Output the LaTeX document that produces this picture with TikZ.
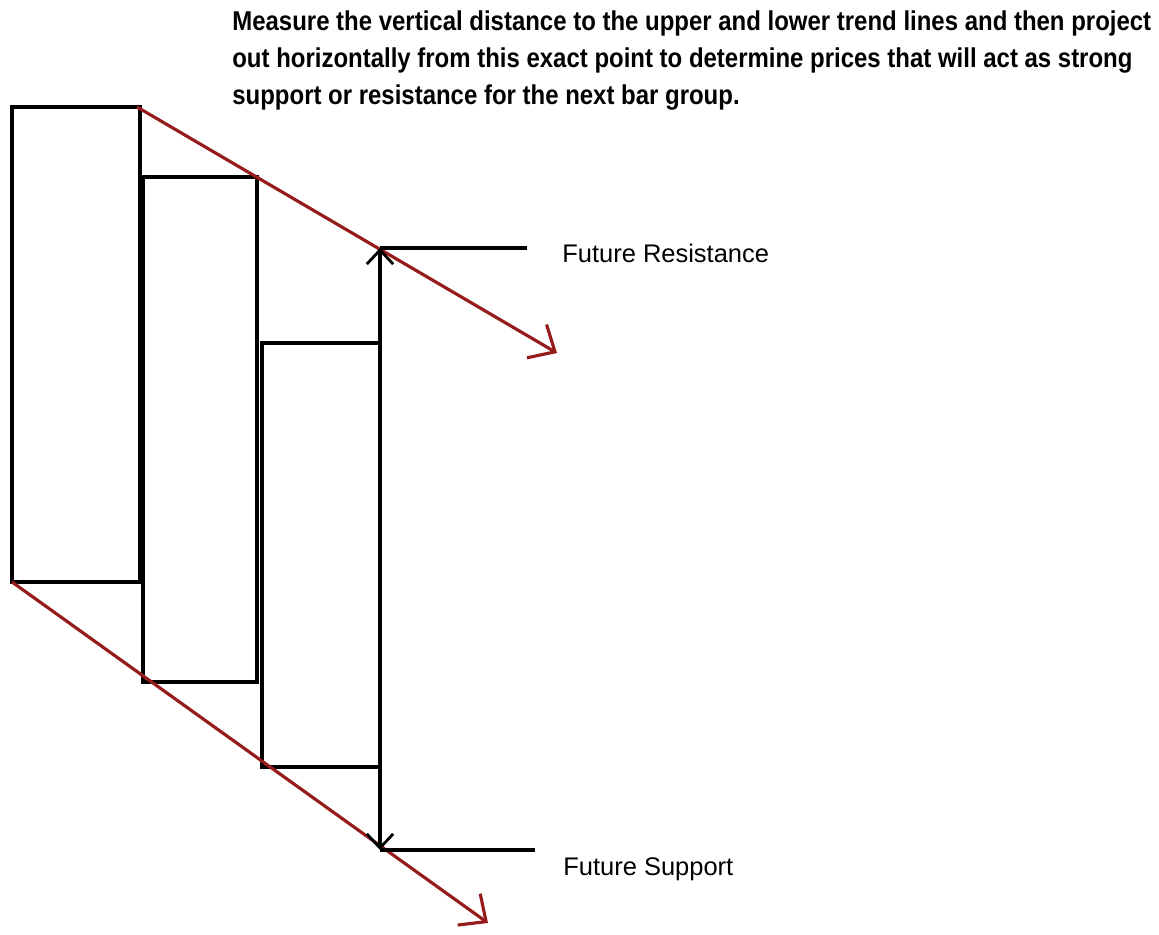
\documentclass[tikz,border=0pt]{standalone}
\usepackage{fontspec}
\setmainfont{Liberation Sans}
\newfontfamily\headfont[FakeStretch=0.88]{Liberation Sans}
\usetikzlibrary{arrows.meta}
\usetikzlibrary{positioning}

\definecolor{trendred}{RGB}{150,28,28}

\tikzset{
    bar/.style={draw=black,line width=2pt},
    trend/.style={draw=trendred,line width=1.8pt,
        -{Straight Barb[length=12pt,width=22pt,line width=1.8pt]}},
    span/.style={draw=black,line width=1.9pt,
        {Straight Barb[length=8pt,width=15pt,line width=1.6pt]}-{Straight Barb[length=8pt,width=15pt,line width=1.6pt]}},
    level/.style={draw=black,line width=2pt},
    headline/.style={anchor=base west,inner sep=0pt,
        font=\headfont\bfseries\fontsize{15.5}{18}\selectfont},
    levelname/.style={anchor=base west,inner sep=0pt,
        font=\fontsize{14.5}{17}\selectfont}
}

\begin{document}
\begin{tikzpicture}[x=0.02cm,y=-0.02cm]
    \useasboundingbox (0,0) rectangle (1159,935);

    % heading
    \node[headline] (head1) at (232,31)
        {Measure the vertical distance to the upper and lower trend lines and then project};
    \node[headline] (head2) at (232,68)
        {out horizontally from this exact point to determine prices that will act as strong};
    \node[headline] (head3) at (232,105)
        {support or resistance for the next bar group.};

    % bar group
    \draw[bar] (12,107) rectangle (140,582);
    \draw[bar] (143,177) rectangle (257,682);
    \draw[bar] (262,343) rectangle (380,767);

    % trend lines
    \coordinate (uptop)  at (137,107);
    \coordinate (upend)  at (557,353);
    \coordinate (lowtop) at (12,582);
    \coordinate (lowend) at (488,923);
    \draw[trend] (uptop) -- (upend);
    \draw[trend] (lowtop) -- (lowend);

    % projection points
    \coordinate (res) at (380,248);
    \coordinate (sup) at (380,850);
    \coordinate (resout) at (527,248);
    \coordinate (supout) at (535,850);
    \draw[span] (sup) -- (res);
    \draw[level] (res) -- (resout);
    \draw[level] (sup) -- (supout);

    \node[levelname] (reslabel) at (562,263) {Future Resistance};
    \node[levelname] (suplabel) at (563,875) {Future Support};
\end{tikzpicture}
\end{document}
